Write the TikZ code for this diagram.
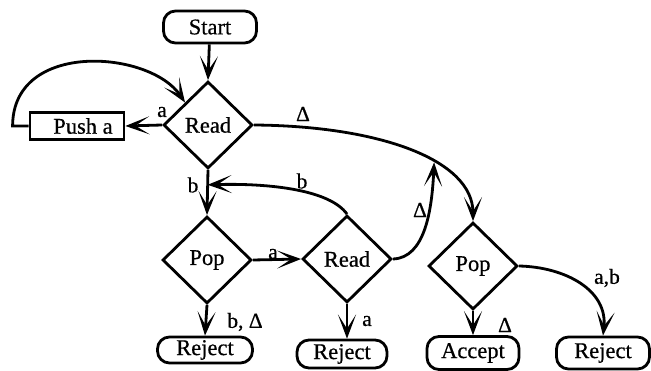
\documentclass[tikz,border=0pt]{standalone}
\usepackage{fontspec}
\setmainfont{Liberation Serif}[FakeBold=0.6]
\usetikzlibrary{shapes.geometric,arrows.meta,calc}
\begin{document}
\begin{tikzpicture}[x=1pt,y=-1pt,
  line width=2.8pt,
  font=\fontsize{22.5}{25}\selectfont,
  tip/.style={-{Stealth[length=24pt,width=18pt,inset=14pt]}},
  decision/.style={draw,diamond,minimum width=89pt,minimum height=87pt,inner sep=0pt},
  terminal/.style={draw,rectangle,rounded corners=12pt,inner sep=0pt},
  action/.style={draw,rectangle,inner sep=0pt,minimum width=94pt,minimum height=27pt},
  lbl/.style={font=\fontsize{21.5}{24}\selectfont,inner sep=0pt}]
\useasboundingbox (0,0) rectangle (651,371);

% nodes
\node[terminal,minimum width=93pt,minimum height=32pt] (start) at (210,27) {Start};
\node[decision] (r1) at (208,125) {Read};
\node[action] (push) at (77,126) {\hspace{12pt}Push a};
\node[decision] (p1) at (207,260) {Pop};
\node[decision] (r2) at (347,259) {Read};
\node[decision] (p2) at (473,266) {Pop};
\node[terminal,minimum width=95pt,minimum height=26pt] (rej1) at (205,350) {Reject};
\node[terminal,minimum width=90pt,minimum height=28pt] (rej2) at (342,354) {Reject};
\node[terminal,minimum width=92pt,minimum height=33pt] (acc) at (473,353) {Accept};
\node[terminal,minimum width=93pt,minimum height=32pt] (rej3) at (603,353) {Reject};

% straight connectors
\draw[tip] (start) -- (r1.north);
\draw[tip] (r1.west) -- (push.east);
\draw[tip] (r1.south) -- (p1.north);
\draw[tip] (p1.east) -- (r2.west);
\draw[tip] (p1.south) -- (rej1.north);
\draw[tip] (r2.south) -- (rej2.north -| r2.south);
\draw[tip] (p2.south) -- (acc.north);

% push loops back to the first read
\draw[tip] (push.west) -- ++(-16,0) .. controls +(0,-86) and (150,50) .. (r1.north west);

% end of input: first read to the second pop
\draw[tip] (r1.east) .. controls (380,126) and (473,160) .. (p2.north)
  coordinate[pos=0.61] (join);

% second read back to the pop loop
\coordinate (back) at ($(r1.south)!0.33!(p1.north)$);
\draw[tip] (r2.north) .. controls (330,190) and (270,183) .. (back);

% second read on end of input joins the accept path
\draw[tip] (r2.east) .. controls (425,258) and (432,210) .. (join);

% second pop on leftover input
\draw[tip] (p2.east) .. controls (565,267) and (608,290) .. (rej3.north);

% labels
\node[lbl] (la1) at (162,112) {a};
\node[lbl] (ld1) at (303,114) {Δ};
\node[lbl] (lb1) at (193,185) {b};
\node[lbl] (lb2) at (302,181) {b};
\node[lbl] (la2) at (273,254) {a};
\node[lbl] (ld2) at (420,210) {Δ};
\node[lbl] (lbd) at (245,322) {b, Δ};
\node[lbl] (la3) at (367,321) {a};
\node[lbl] (ld3) at (505,325) {Δ};
\node[lbl] (lab) at (607,278) {a,b};
\end{tikzpicture}
\end{document}
